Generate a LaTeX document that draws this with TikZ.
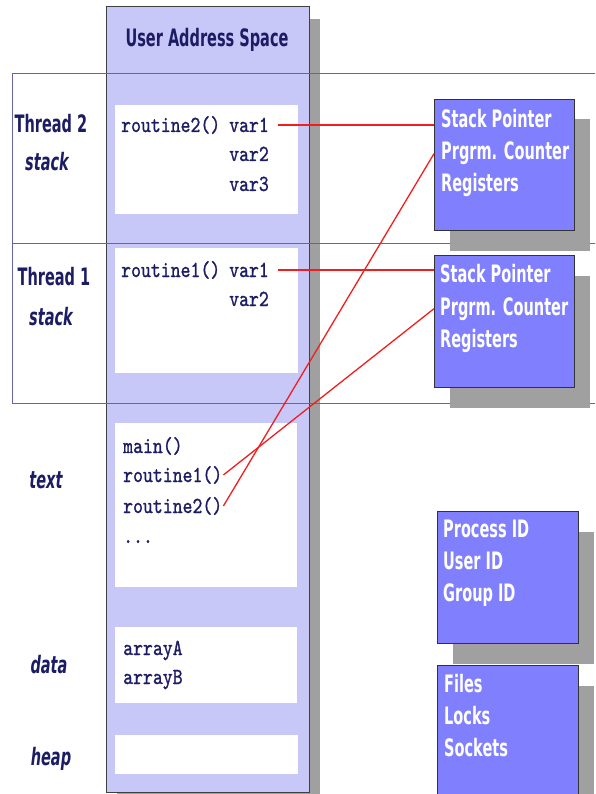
\documentclass[tikz,border=0pt]{standalone}
\usepackage{fontspec}
\usepackage{tikz}
\usetikzlibrary{positioning, calc, shadows}
\newfontfamily\lblfont{DejaVu Sans}[FakeStretch=0.605]
\newfontfamily\codefont{lmmono10-regular}[Extension=.otf, FakeStretch=0.82, FakeBold=1]
\definecolor{uasfill}{RGB}{200,200,248}
\definecolor{regfill}{RGB}{128,128,255}
\definecolor{navy}{RGB}{28,28,100}
\definecolor{framecol}{RGB}{100,100,168}
\definecolor{shadowgray}{RGB}{160,160,160}
\definecolor{linkred}{RGB}{240,30,30}

\begin{document}
\begin{tikzpicture}[x=1pt, y=1pt,
	uas/.style={rectangle, draw=black!75, fill=uasfill, line width=1.2pt, inner sep=0, anchor=north west,
		drop shadow={shadow xshift=10pt, shadow yshift=-12pt, fill=shadowgray, opacity=1}},
	seg/.style={rectangle, fill=white, inner sep=0, anchor=north west},
	frame/.style={rectangle, draw=framecol, line width=1pt, inner sep=0, anchor=north west},
	regbox/.style={rectangle, draw=black!80, fill=regfill, line width=1pt, inner sep=0, anchor=north west,
		drop shadow={shadow xshift=15pt, shadow yshift=-20pt, fill=shadowgray, opacity=1}},
	lbl/.style={font=\lblfont\bfseries\fontsize{24}{28}\selectfont, text=navy, anchor=base, inner sep=0},
	seglbl/.style={lbl, font=\lblfont\bfseries\itshape\fontsize{24}{28}\selectfont},
	regtxt/.style={lbl, text=white, anchor=base west},
	code/.style={font=\codefont\fontsize{23}{28}\selectfont, text=navy, anchor=base west, inner sep=1pt},
	link/.style={draw=linkred, line width=1.3pt}]
	\clip (0,0) rectangle (595,-794);

	% address space column
	\node[uas, minimum width=203pt, minimum height=786pt] (uas) at (106,-6) {};
	\node[lbl] (uashead) at (207,-47) {User Address Space};

	% thread frames
	\node[frame, minimum width=600pt, minimum height=170pt] (t2frame) at (12,-73) {};
	\node[frame, minimum width=600pt, minimum height=160pt] (t1frame) at (12,-243) {};

	% segments
	\node[seg, minimum width=183pt, minimum height=109pt] (t2seg) at (115,-105) {};
	\node[seg, minimum width=183pt, minimum height=125pt] (t1seg) at (115,-248) {};
	\node[seg, minimum width=182pt, minimum height=164pt] (textseg) at (115,-423) {};
	\node[seg, minimum width=182pt, minimum height=76pt] (dataseg) at (115,-627) {};
	\node[seg, minimum width=183pt, minimum height=39pt] (heapseg) at (115,-735) {};

	\node[lbl] (t2lbl) at (51,-133) {Thread 2};
	\node[seglbl] (t2stk) at (47,-171) {stack};
	\node[lbl] (t1lbl) at (54,-285) {Thread 1};
	\node[seglbl] (t1stk) at (51,-325) {stack};
	\node[seglbl] (textlbl) at (46,-488) {text};
	\node[seglbl] (datalbl) at (49,-673) {data};
	\node[seglbl] (heaplbl) at (51,-765) {heap};

	% code in segments
	\node[code] (t2fn) at (120,-132) {routine2()};
	\node[code] (t2v1) at (228,-132) {var1};
	\node[code] (t2v2) at (228,-161) {var2};
	\node[code] (t2v3) at (228,-191) {var3};
	\node[code] (t1fn) at (120,-277) {routine1()};
	\node[code] (t1v1) at (228,-277) {var1};
	\node[code] (t1v2) at (228,-306) {var2};
	\node[code] (main) at (122,-453) {main()};
	\node[code] (r1) at (122,-482) {routine1()};
	\node[code] (r2) at (122,-513) {routine2()};
	\node[code] (more) at (122,-543) {...};
	\node[code] (arrA) at (122,-655) {arrayA};
	\node[code] (arrB) at (122,-684) {arrayB};

	% per-thread and per-process boxes
	\node[regbox, minimum width=140pt, minimum height=131pt] (regA) at (434,-99) {};
	\node[regtxt] (spA) at (441,-128) {Stack Pointer};
	\node[regtxt] (pcA) at (441,-160) {Prgrm. Counter};
	\node[regtxt] (rgA) at (441,-192) {Registers};
	\node[regbox, minimum width=140pt, minimum height=132pt] (regB) at (434,-255) {};
	\node[regtxt] (spB) at (440,-282) {Stack Pointer};
	\node[regtxt] (pcB) at (440,-315) {Prgrm. Counter};
	\node[regtxt] (rgB) at (440,-347) {Registers};
	\node[regbox, minimum width=141pt, minimum height=132pt] (ids) at (437,-511) {};
	\node[regtxt] (pid) at (443,-537) {Process ID};
	\node[regtxt] (uid) at (443,-569) {User ID};
	\node[regtxt] (gid) at (443,-601) {Group ID};
	\node[regbox, minimum width=141pt, minimum height=150pt] (res) at (437,-665) {};
	\node[regtxt] (files) at (444,-692) {Files};
	\node[regtxt] (locks) at (444,-724) {Locks};
	\node[regtxt] (socks) at (444,-756) {Sockets};

	\draw[link, shorten <=8pt] (t2v1.east) -- (t2v1.east -| regA.west);
	\draw[link, shorten <=8pt] (t1v1.east) -- (t1v1.east -| regB.west);
	\draw[link] (r1.east) -- (pcB.west -| regB.west);
	\draw[link] (r2.east) -- (pcA.west -| regA.west);
\end{tikzpicture}
\end{document}
